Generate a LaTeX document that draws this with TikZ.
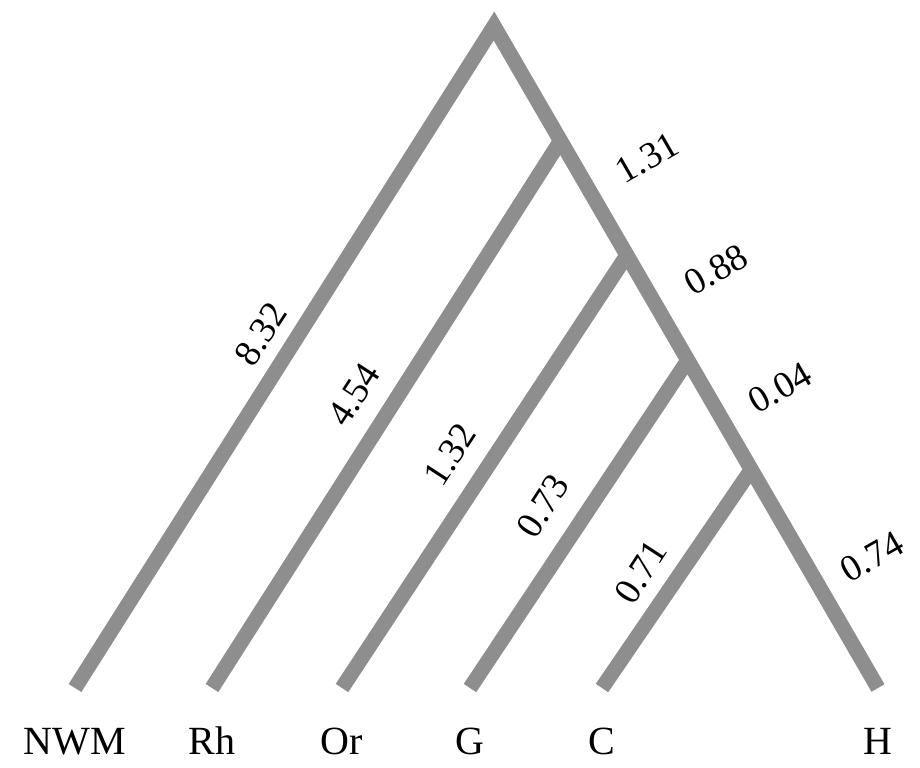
\documentclass[tikz,border=0pt]{standalone}
\usepackage{fontspec}
\setmainfont{Liberation Serif}
\usetikzlibrary{positioning}

\definecolor{branchgray}{RGB}{142,142,142}

\tikzset{
    branch/.style={draw=branchgray, line width=11.25pt},
    taxon/.style={font=\fontsize{30}{34}\selectfont, text height=20pt, text depth=0pt},
    blen/.style={font=\fontsize{28}{31}\selectfont, inner sep=1pt},
}

\begin{document}
\begin{tikzpicture}[x=0.75pt,y=-0.75pt]
\useasboundingbox (0,0) rectangle (920,767);

% ===== Gốc, các điểm nối và các lá =====
\coordinate (root) at (494,26);
\coordinate (jrh) at (561,140);
\coordinate (jor) at (627,255);
\coordinate (jg)  at (688,360);
\coordinate (jc)  at (751,470);

\coordinate (lnwm) at (75,688);
\coordinate (lrh)  at (212,688);
\coordinate (lor)  at (342,688);
\coordinate (lg)   at (470,688);
\coordinate (lc)   at (602,688);
\coordinate (lh)   at (878,688);

% ===== Các nhánh =====
\draw[branch, line join=miter] (lnwm) -- (root) -- (lh);
\foreach \a/\b in {lrh/jrh, lor/jor, lg/jg, lc/jc} {
    \draw[branch] (\a) -- (\b);
}

% ===== Tên các loài =====
\node[taxon, below=26pt of lnwm] (tnwm) {NWM};
\node[taxon, below=26pt of lrh]  (trh)  {Rh};
\node[taxon, below=26pt of lor]  (tor)  {Or};
\node[taxon, below=26pt of lg]   (tg)   {G};
\node[taxon, below=26pt of lc]   (tc)   {C};
\node[taxon, below=26pt of lh]   (th)   {H};

% ===== Độ dài nhánh (trái) =====
\node[blen, rotate=57] (b832) at (261,334) {8.32};
\node[blen, rotate=57] (b454) at (354,395) {4.54};
\node[blen, rotate=57] (b132) at (450,455) {1.32};
\node[blen, rotate=57] (b073) at (543,506) {0.73};
\node[blen, rotate=57] (b071) at (641,572) {0.71};

% ===== Độ dài nhánh (phải) =====
\node[blen, rotate=30] (b131) at (647,158) {1.31};
\node[blen, rotate=30] (b088) at (716,270) {0.88};
\node[blen, rotate=30] (b004) at (780,388) {0.04};
\node[blen, rotate=30] (b074) at (872,557) {0.74};

\end{tikzpicture}
\end{document}
